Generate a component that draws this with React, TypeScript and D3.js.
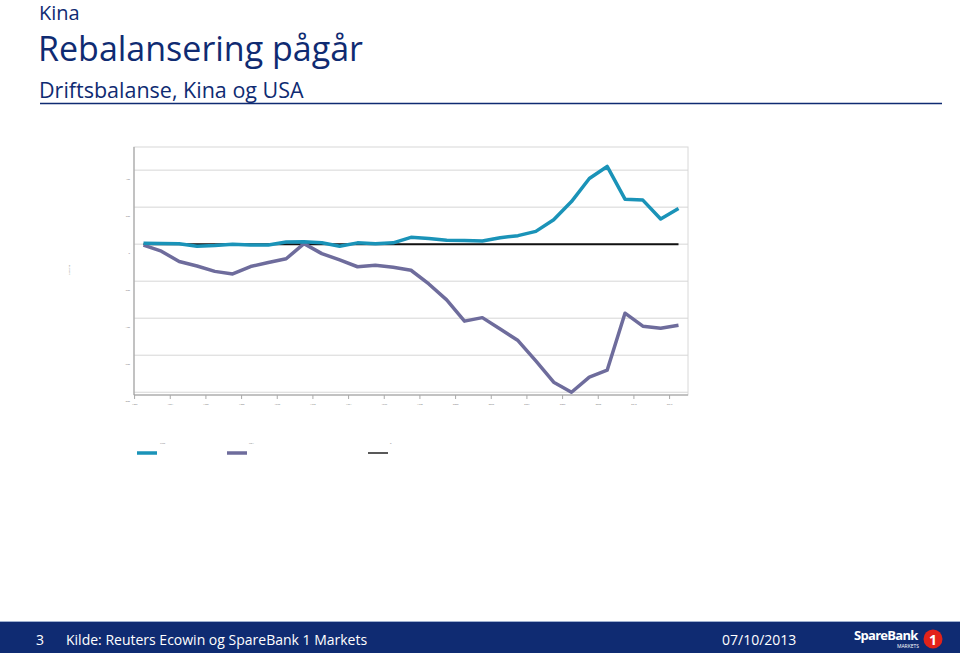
import React from 'react';
import * as d3 from 'd3';

const W = 960;
const H = 653;
const NAVY = '#0f2b72';

// Years 1982-2012, current account (USD bn)
const years = d3.range(1982, 2013);
const kina = [5, 4, 2, -11, -7, 0, -4, -4, 12, 13, 8, -11, 7, 2, 7, 37, 31, 21, 20, 17, 35, 46, 69, 132, 230, 355, 420, 243, 238, 136, 193];
const usa = [-5, -38, -94, -118, -147, -161, -121, -99, -79, 3, -51, -85, -122, -114, -125, -141, -215, -301, -416, -397, -458, -521, -631, -746, -800, -718, -681, -373, -443, -454, -438];
const yTicks = [400, 200, 0, -200, -400, -600, -800];
const xTickYears = d3.range(1982, 2013, 2);
const seriesNames = ['Kina', 'USA', '0'];

const box = { left: 134, right: 688, top: 147, bottom: 395 };

export default function App() {
  const x = d3.scaleLinear().domain([1982, 2012]).range([143.5, 678.5]);
  const y = d3.scaleLinear().domain([-815, 525]).range([box.bottom, box.top]);
  const line = d3.line<number>().x((_, i) => x(years[i])).y(d => y(d));
  const zero = years.map(() => 0);
  const half = (x(1983) - x(1982)) / 2;

  const legend = [
    { color: '#1a93b8', x0: 137, label: seriesNames[0], lx: 160 },
    { color: '#6e6c9c', x0: 227, label: seriesNames[1], lx: 249 },
    { color: '#222', x0: 368, label: seriesNames[2], lx: 390 },
  ];

  return (
    <svg width={W} height={H} style={{ position: 'absolute', left: 0, top: 0, background: '#fff' }}
      fontFamily="'Open Sans', sans-serif">
      {/* header */}
      <text x={39} y={20} fontSize={20} fill={NAVY}>Kina</text>
      <text x={38} y={61} fontSize={34} fill={NAVY}>Rebalansering pågår</text>
      <text x={39} y={98} fontSize={21.5} fill={NAVY}>Driftsbalanse, Kina og USA</text>
      <line x1={40} x2={942} y1={103.5} y2={103.5} stroke={NAVY} strokeWidth={1.5} />

      {/* plot frame */}
      <rect x={box.left} y={box.top} width={box.right - box.left} height={box.bottom - box.top}
        fill="none" stroke="#d8d8d8" strokeWidth={1} />
      {yTicks.map(t => (
        <g key={t}>
          <line x1={box.left} x2={box.right} y1={y(t)} y2={y(t)} stroke="#d6d6d6" strokeWidth={1} />
          <text x={130} y={y(t) + 10} fontSize={2.5} fill="#777" textAnchor="end">{t}</text>
        </g>
      ))}
      <line x1={box.left} x2={box.left} y1={box.top} y2={box.bottom} stroke="#999" />
      <line x1={box.left} x2={box.right} y1={box.bottom} y2={box.bottom} stroke="#999" />
      {xTickYears.map(yr => {
        const px = x(yr) - half;
        return (
          <g key={yr}>
            <line x1={px} x2={px} y1={box.bottom} y2={box.bottom + 4} stroke="#aaa" />
            <text x={px} y={box.bottom + 10} fontSize={2.5} fill="#777" textAnchor="middle">{yr}</text>
          </g>
        );
      })}
      <text transform="translate(70,270) rotate(-90)" fontSize={2.5} fill="#777" textAnchor="middle">USD mrd</text>

      {/* series */}
      <path d={line(zero) ?? ''} fill="none" stroke="#111" strokeWidth={2} />
      <path d={line(usa) ?? ''} fill="none" stroke="#6e6c9c" strokeWidth={3.5} strokeLinejoin="round" />
      <path d={line(kina) ?? ''} fill="none" stroke="#1a93b8" strokeWidth={3.5} strokeLinejoin="round" />

      {/* legend */}
      {legend.map(l => (
        <g key={l.label}>
          <line x1={l.x0} x2={l.x0 + 20} y1={453} y2={453} stroke={l.color} strokeWidth={l.color === '#222' ? 1.5 : 3.5} />
          <text x={l.lx} y={444} fontSize={2.5} fill="#777">{l.label}</text>
        </g>
      ))}

      {/* footer */}
      <rect x={0} y={622} width={W} height={31} fill={NAVY} />
      <line x1={0} x2={W} y1={621.5} y2={621.5} stroke="#9fb0d0" strokeWidth={1} />
      <text x={36} y={645} fontSize={14} fill="#fff">3</text>
      <text x={66} y={645} fontSize={14} fill="#fff">Kilde: Reuters Ecowin og SpareBank 1 Markets</text>
      <text x={722} y={645} fontSize={14} fill="#fff">07/10/2013</text>
      <text x={854} y={640} fontSize={13} fontWeight={700} fill="#fff" letterSpacing={-0.7}>SpareBank</text>
      <text x={919} y={648} fontSize={5} fill="#fff" textAnchor="end">MARKETS</text>
      <circle cx={933} cy={639} r={9.5} fill="#e2231a" />
      <text x={933} y={644.5} fontSize={14} fontWeight={700} fill="#fff" textAnchor="middle">1</text>
    </svg>
  );
}
